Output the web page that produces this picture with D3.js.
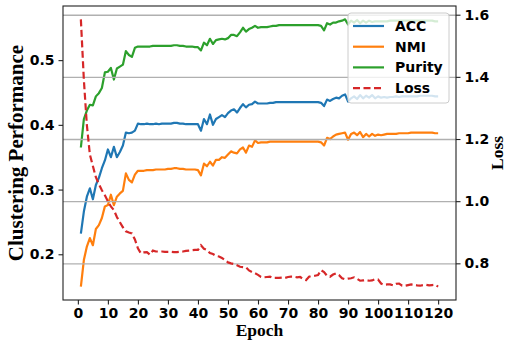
<!DOCTYPE html>
<html lang="en">
<head>
<meta charset="UTF-8">
<script src="https://cdn.jsdelivr.net/npm/d3@7/dist/d3.min.js"></script>
<title>Clustering performance</title>
<style>
  body { margin: 0; background: #fff; }
  .tick text { font: bold 14px "DejaVu Sans", sans-serif; fill: #000; }
  .axis-title { font: bold 17.5px "Liberation Serif", "Times New Roman", serif; fill: #000; }
  .axis-title.big { font-size: 21px; }
  .legend text { font: bold 14px "DejaVu Sans", sans-serif; fill: #000; }
  .grid line { stroke: #b0b0b0; stroke-width: 1.4; }
</style>
</head>
<body>
<div id="chart"></div>
<script>
// values, epoch 1..120
const epochs = d3.range(1, 121);

const accValues = [
  0.232, 0.266, 0.289, 0.302, 0.285, 0.307, 0.318, 0.333, 0.345, 0.362,
  0.350, 0.366, 0.350, 0.358, 0.368, 0.388, 0.387, 0.388, 0.391, 0.402,
  0.401, 0.401, 0.402, 0.401, 0.401, 0.402, 0.401, 0.402, 0.402, 0.402,
  0.402, 0.403, 0.403, 0.402, 0.402, 0.401, 0.401, 0.401, 0.401, 0.401,
  0.391, 0.409, 0.401, 0.416, 0.400, 0.409, 0.412, 0.415, 0.412, 0.418,
  0.422, 0.424, 0.419, 0.426, 0.432, 0.427, 0.431, 0.432, 0.436, 0.433,
  0.433, 0.433, 0.433, 0.434, 0.434, 0.435, 0.435, 0.435, 0.435, 0.435,
  0.435, 0.435, 0.435, 0.435, 0.435, 0.435, 0.435, 0.435, 0.435, 0.435,
  0.434, 0.429, 0.439, 0.437, 0.440, 0.442, 0.441, 0.445, 0.447, 0.436,
  0.441, 0.444, 0.440, 0.446, 0.441, 0.445, 0.442, 0.446, 0.441, 0.444,
  0.442, 0.443, 0.442, 0.443, 0.443, 0.444, 0.443, 0.444, 0.444, 0.444,
  0.444, 0.444, 0.444, 0.445, 0.445, 0.445, 0.445, 0.445, 0.444, 0.444
];

const nmiValues = [
  0.150, 0.191, 0.212, 0.225, 0.214, 0.239, 0.245, 0.256, 0.274, 0.276,
  0.292, 0.276, 0.289, 0.294, 0.298, 0.325, 0.315, 0.311, 0.323, 0.329,
  0.329, 0.329, 0.330, 0.330, 0.330, 0.331, 0.331, 0.331, 0.331, 0.332,
  0.332, 0.333, 0.333, 0.332, 0.332, 0.331, 0.331, 0.331, 0.331, 0.330,
  0.322, 0.340, 0.336, 0.343, 0.337, 0.346, 0.346, 0.350, 0.349, 0.354,
  0.359, 0.357, 0.356, 0.362, 0.365, 0.357, 0.368, 0.366, 0.376, 0.372,
  0.373, 0.373, 0.373, 0.374, 0.374, 0.374, 0.374, 0.374, 0.374, 0.374,
  0.374, 0.374, 0.374, 0.374, 0.374, 0.374, 0.374, 0.374, 0.374, 0.374,
  0.373, 0.368, 0.380, 0.378, 0.382, 0.385, 0.386, 0.387, 0.388, 0.377,
  0.386, 0.388, 0.384, 0.389, 0.381, 0.386, 0.382, 0.386, 0.383, 0.385,
  0.384, 0.385, 0.386, 0.386, 0.386, 0.386, 0.387, 0.387, 0.387, 0.387,
  0.388, 0.388, 0.388, 0.388, 0.388, 0.388, 0.388, 0.388, 0.387, 0.387
];

const purityValues = [
  0.365, 0.409, 0.422, 0.431, 0.430, 0.444, 0.449, 0.457, 0.481, 0.482,
  0.488, 0.470, 0.487, 0.490, 0.493, 0.514, 0.508, 0.505, 0.519, 0.521,
  0.521, 0.521, 0.521, 0.521, 0.522, 0.522, 0.522, 0.522, 0.522, 0.522,
  0.522, 0.523, 0.523, 0.522, 0.522, 0.521, 0.521, 0.521, 0.520, 0.520,
  0.515, 0.527, 0.523, 0.533, 0.525, 0.531, 0.532, 0.533, 0.532, 0.534,
  0.539, 0.539, 0.537, 0.543, 0.550, 0.544, 0.548, 0.550, 0.553, 0.550,
  0.551, 0.551, 0.551, 0.552, 0.553, 0.553, 0.554, 0.554, 0.554, 0.554,
  0.554, 0.554, 0.554, 0.554, 0.554, 0.554, 0.554, 0.554, 0.554, 0.554,
  0.553, 0.546, 0.557, 0.555, 0.558, 0.558, 0.560, 0.561, 0.563, 0.555,
  0.561, 0.558, 0.562, 0.557, 0.561, 0.558, 0.561, 0.559, 0.560, 0.560,
  0.560, 0.560, 0.560, 0.561, 0.561, 0.561, 0.561, 0.561, 0.561, 0.561,
  0.561, 0.561, 0.561, 0.561, 0.561, 0.561, 0.561, 0.561, 0.560, 0.560
];

const lossValues = [
  1.585, 1.390, 1.245, 1.150, 1.113, 1.077, 1.055, 1.035, 1.019, 1.000,
  0.983, 0.971, 0.949, 0.932, 0.916, 0.903, 0.899, 0.896, 0.877, 0.848,
  0.832, 0.835, 0.836, 0.828, 0.841, 0.838, 0.838, 0.838, 0.837, 0.837,
  0.837, 0.836, 0.836, 0.837, 0.838, 0.840, 0.841, 0.842, 0.843, 0.843,
  0.858, 0.847, 0.843, 0.833, 0.830, 0.824, 0.822, 0.817, 0.811, 0.803,
  0.800, 0.798, 0.794, 0.789, 0.788, 0.787, 0.777, 0.772, 0.768, 0.763,
  0.756, 0.755, 0.756, 0.757, 0.753, 0.753, 0.753, 0.754, 0.753, 0.756,
  0.757, 0.757, 0.755, 0.756, 0.750, 0.746, 0.757, 0.760, 0.760, 0.762,
  0.778, 0.772, 0.760, 0.757, 0.764, 0.768, 0.762, 0.752, 0.749, 0.751,
  0.752, 0.755, 0.750, 0.744, 0.745, 0.746, 0.744, 0.745, 0.749, 0.748,
  0.735, 0.731, 0.732, 0.732, 0.729, 0.734, 0.735, 0.728, 0.728, 0.730,
  0.732, 0.731, 0.729, 0.728, 0.730, 0.731, 0.729, 0.730, 0.731, 0.725
];

const xTicks = [0, 10, 20, 30, 40, 50, 60, 70, 80, 90, 100, 110, 120];
const leftTicks = [0.2, 0.3, 0.4, 0.5];
const rightTicks = [0.8, 1.0, 1.2, 1.4, 1.6];

const seriesNames = ["ACC", "NMI", "Purity", "Loss"];
const colors = ["#1f77b4", "#ff7f0e", "#2ca02c", "#d62728"];

const width = 508, height = 341;
const margin = {top: 6, right: 52, bottom: 41, left: 63};
const w = width - margin.left - margin.right;
const h = height - margin.top - margin.bottom;

// matplotlib-style 5% padding
function padded(ext) {
  const p = (ext[1] - ext[0]) * 0.05;
  return [ext[0] - p, ext[1] + p];
}

const x = d3.scaleLinear().domain(padded(d3.extent(epochs))).range([0, w]);
const yLeft = d3.scaleLinear()
  .domain(padded(d3.extent(accValues.concat(nmiValues, purityValues))))
  .range([h, 0]);
const yRight = d3.scaleLinear().domain(padded(d3.extent(lossValues))).range([h, 0]);

const svg = d3.select("#chart").append("svg")
  .attr("width", width)
  .attr("height", height);

const g = svg.append("g").attr("transform", `translate(${margin.left},${margin.top})`);

// left axis lines
const leftSeries = [accValues, nmiValues, purityValues];
leftSeries.forEach(function(vals, i) {
  const line = d3.line()
    .x(function(d, j) { return x(epochs[j]); })
    .y(function(d) { return yLeft(d); });
  g.append("path")
    .datum(vals)
    .attr("fill", "none")
    .attr("stroke", colors[i])
    .attr("stroke-width", 2.2)
    .attr("stroke-linejoin", "round")
    .attr("d", line);
});

// grid from the loss axis
g.append("g")
  .attr("class", "grid")
  .call(d3.axisRight(yRight).tickValues(rightTicks).tickSize(w).tickFormat(""))
  .call(function(s) { s.select(".domain").remove(); });

// loss line
g.append("path")
  .datum(lossValues)
  .attr("fill", "none")
  .attr("stroke", colors[3])
  .attr("stroke-width", 2.2)
  .attr("stroke-dasharray", "7,3.5")
  .attr("d", d3.line()
    .x(function(d, j) { return x(epochs[j]); })
    .y(function(d) { return yRight(d); }));

// frame
g.append("rect")
  .attr("width", w).attr("height", h)
  .attr("fill", "none").attr("stroke", "#222").attr("stroke-width", 1.1);

// axes
const xAxis = g.append("g")
  .attr("transform", `translate(0,${h})`)
  .call(d3.axisBottom(x).tickValues(xTicks).tickSize(4.5).tickPadding(4));
const lAxis = g.append("g")
  .call(d3.axisLeft(yLeft).tickValues(leftTicks).tickFormat(d3.format(".1f")).tickSize(4.5).tickPadding(4));
const rAxis = g.append("g")
  .attr("transform", `translate(${w},0)`)
  .call(d3.axisRight(yRight).tickValues(rightTicks).tickFormat(d3.format(".1f")).tickSize(4.5).tickPadding(4));
[xAxis, lAxis, rAxis].forEach(function(a) {
  a.attr("font-family", null).attr("font-size", null);
  a.select(".domain").remove();
  a.selectAll(".tick line").attr("stroke", "#222").attr("stroke-width", 1.1);
});

// axis titles
svg.append("text")
  .attr("class", "axis-title")
  .attr("text-anchor", "middle")
  .attr("x", margin.left + w / 2)
  .attr("y", 336)
  .text("Epoch");
svg.append("text")
  .attr("class", "axis-title big")
  .attr("text-anchor", "middle")
  .attr("transform", `translate(22.5,${margin.top + h / 2}) rotate(-90)`)
  .text("Clustering Performance");
svg.append("text")
  .attr("class", "axis-title")
  .attr("text-anchor", "middle")
  .attr("transform", `translate(503,${margin.top + h / 2}) rotate(-90)`)
  .text("Loss");

// legend
const legend = svg.append("g").attr("class", "legend").attr("transform", "translate(348,13)");
legend.append("rect")
  .attr("width", 101).attr("height", 90)
  .attr("rx", 3)
  .attr("fill", "#fff").attr("fill-opacity", 0.8)
  .attr("stroke", "#cccccc").attr("stroke-width", 1);
const items = legend.selectAll(".item")
  .data(seriesNames)
  .enter().append("g")
  .attr("transform", function(d, i) { return `translate(0,${13 + i * 20.7})`; });
items.append("line")
  .attr("x1", 5).attr("x2", 36)
  .attr("stroke", function(d, i) { return colors[i]; })
  .attr("stroke-width", 2.2)
  .attr("stroke-dasharray", function(d) { return d === "Loss" ? "7,3.5" : null; });
items.append("text")
  .attr("x", 47).attr("dy", "0.36em")
  .text(function(d) { return d; });
</script>
</body>
</html>
